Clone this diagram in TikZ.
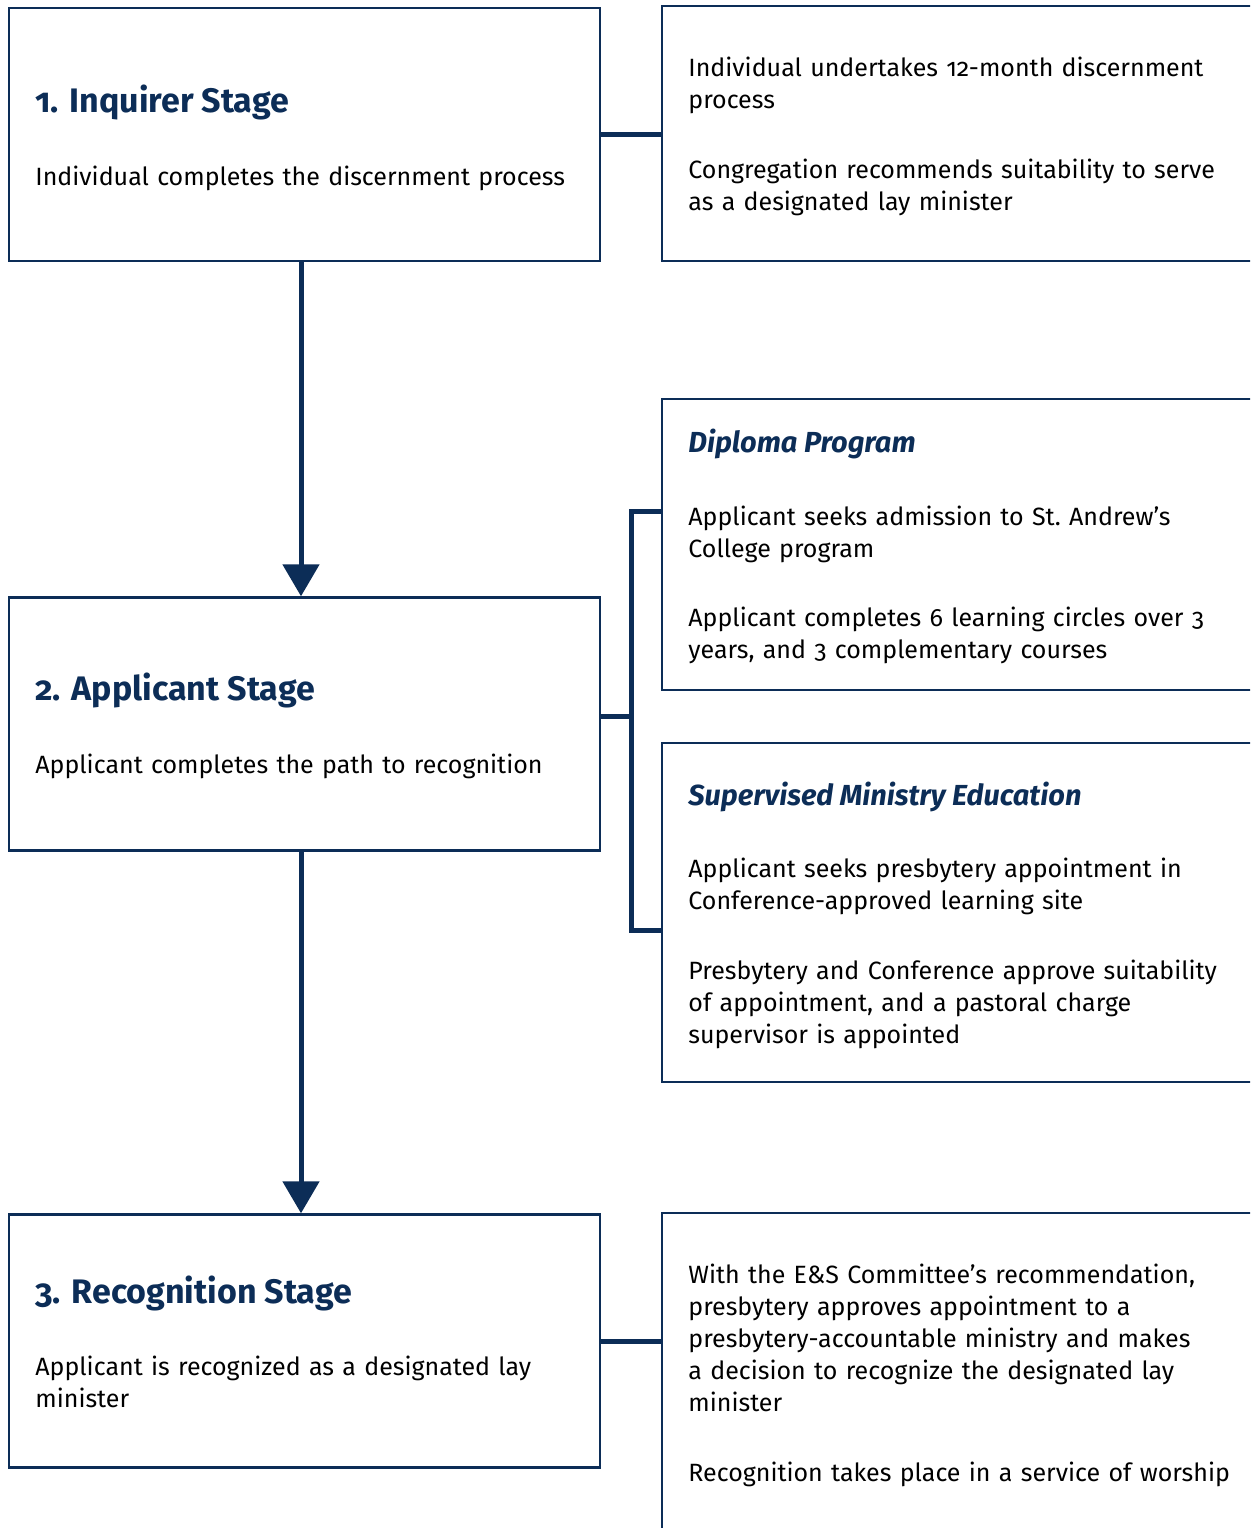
\documentclass[tikz,border=0pt]{standalone}
\usepackage{fontspec}
\setmainfont{Fira Sans}[Numbers=OldStyle]
\usetikzlibrary{arrows.meta}
\definecolor{navy}{HTML}{0C2D57}
\tikzset{>={Triangle[width=18pt,length=16pt]},
  stagebox/.style={draw=navy,line width=1.2pt,minimum width=295.5pt,minimum height=126.5pt,inner sep=0pt},
  notebox/.style={draw=navy,line width=1.2pt,minimum width=300pt,inner sep=0pt},
  stagetitle/.style={anchor=base west,inner sep=0pt,text=navy,font=\fontsize{17}{20}\selectfont\bfseries},
  subtitle/.style={anchor=base west,inner sep=0pt,text=navy,font=\fontsize{14.5}{18}\selectfont\bfseries\itshape},
  txt/.style={anchor=base west,inner sep=0pt,text width=280pt,align=left,font=\fontsize{12.5}{16}\selectfont},
  conn/.style={draw=navy,line width=2.5pt},
  arr/.style={->,draw=navy,fill=navy,line width=2.5pt}}

\begin{document}
\begin{tikzpicture}[x=0.5pt,y=-0.5pt]
    \clip (0,0) rectangle (1250,1528);
    % stages on the left
    \node[stagebox] (inq) at (304.5,134.5) {};
    \node[stagebox] (app) at (304.5,724) {};
    \node[stagebox] (rec) at (304.5,1341) {};
    \node[stagetitle] (inqT) at (35,112) {1. Inquirer Stage};
    \node[txt] (inqA) at (35,185) {Individual completes the discernment process};
    \node[stagetitle] (appT) at (35,700) {2. Applicant Stage};
    \node[txt] (appA) at (35,773) {Applicant completes the path to recognition};
    \node[stagetitle] (recT) at (35,1303) {3. Recognition Stage};
    \node[txt] (recA) at (35,1375) {Applicant is recognized as a designated lay\\ minister};
    % notes on the right
    \node[notebox,minimum height=127.5pt] (inqN) at (962,133.5) {};
    \node[notebox,minimum height=145.5pt] (dip) at (962,544.5) {};
    \node[notebox,minimum height=169.5pt] (sme) at (962,912.5) {};
    \node[notebox,minimum height=163.5pt] (recN) at (962,1376.5) {};
    \node[txt] (inqN1) at (688,76) {Individual undertakes 12-month discernment\\ process};
    \node[txt] (inqN2) at (688,178) {Congregation recommends suitability to serve\\ as a designated lay minister};
    \node[subtitle] (dipT) at (688,452) {Diploma Program};
    \node[txt] (dip1) at (688,525) {Applicant seeks admission to St.\ Andrew’s\\ College program};
    \node[txt] (dip2) at (688,626) {Applicant completes 6 learning circles over 3\\ years, and 3 complementary courses};
    \node[subtitle] (smeT) at (688,805) {Supervised Ministry Education};
    \node[txt] (sme1) at (688,877) {Applicant seeks presbytery appointment in\\ Conference-approved learning site};
    \node[txt] (sme2) at (688,979) {Presbytery and Conference approve suitability\\ of appointment, and a pastoral charge\\ supervisor is appointed};
    \node[txt] (recN1) at (688,1283) {With the E\&S Committee’s recommendation,\\ presbytery approves appointment to a\\ presbytery-accountable ministry and makes\\ a decision to recognize the designated lay\\ minister};
    \node[txt] (recN2) at (688,1481) {Recognition takes place in a service of worship};
    % connectors
    \coordinate (brk) at (631,716);
    \draw[conn] (inq.east) -- (inq.east -| inqN.west);
    \draw[conn] (brk -| app.east) -- (brk);
    \draw[conn] (dip.west |- 0,511) -| (brk) |- (sme.west |- 0,930);
    \draw[conn] (rec.east) -- (rec.east -| recN.west);
    \draw[arr] ([xshift=-1.75pt]inq.south) -- ([xshift=-1.75pt]app.north);
    \draw[arr] ([xshift=-1.75pt]app.south) -- ([xshift=-1.75pt]rec.north);
\end{tikzpicture}
\end{document}
